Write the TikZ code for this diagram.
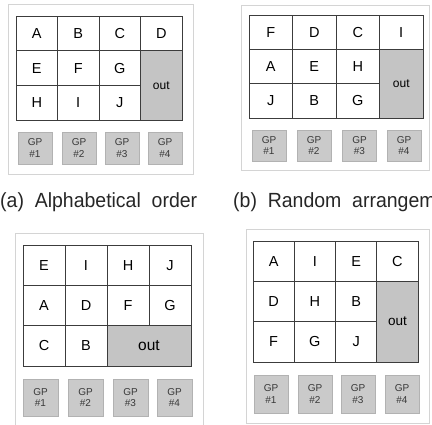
\documentclass[tikz,border=0pt]{standalone}
\usepackage{fontspec}
\setmainfont{Liberation Sans}
\newfontfamily\capfont[FakeStretch=0.95]{Liberation Sans}

\definecolor{gridline}{HTML}{3C3C3C}
\definecolor{framegray}{HTML}{D4D4D4}
\definecolor{outgray}{HTML}{C4C4C4}
\definecolor{gpgray}{HTML}{CACACA}
\definecolor{gpline}{HTML}{B2B2B2}
\definecolor{gptext}{HTML}{383838}

\tikzstyle{cell} = [
        draw=gridline,
        line width=0.8pt,
        fill=white,
        inner sep=0pt,
        font=\fontsize{14.5}{14.5}\selectfont
    ]
\tikzstyle{outcell} = [
        cell,
        fill=outgray,
        font=\fontsize{12}{12}\selectfont
    ]
\tikzstyle{gpbox} = [
        draw=gpline,
        fill=gpgray,
        inner sep=0pt,
        align=center,
        text=gptext,
        font=\fontsize{10}{11.5}\selectfont
    ]
\tikzstyle{frame} = [draw=framegray, line width=0.9pt]
\tikzstyle{caption} = [anchor=base west, inner sep=0pt, text=black!85,
        font=\capfont\fontsize{20.5}{20.5}\selectfont]

\begin{document}
\begin{tikzpicture}[x=1pt, y=-1pt]
        \useasboundingbox (0,0) rectangle (432,424);
        \clip (0,0) rectangle (432,424);

        % (a) alphabetical order
        \draw[frame] (8,4) rectangle (193,174);
        \foreach \l/\c/\r in {A/0/0, B/1/0, C/2/0, D/3/0, E/0/1, F/1/1, G/2/1, H/0/2, I/1/2, J/2/2}
            \node(a\l) [cell, minimum width=41.5pt, minimum height=34.7pt]
                at ({16+41.5*(\c+0.5)}, {16+34.7*(\r+0.5)}) {\l};
        \node(aout) [outcell, minimum width=41.5pt, minimum height=69.4pt]
            at (161.25, 85.4) {out};
        \foreach \k/\x in {1/35, 2/79, 3/122, 4/165}
            \node(agp\k) [gpbox, minimum width=34pt, minimum height=32pt]
                at (\x, 148) {GP\\\#\k};
        \node(acap) [caption] at (0, 207) {(a)\ \ Alphabetical\ \ order};

        % (b) random arrangement
        \draw[frame] (241,5) rectangle (429,170);
        \foreach \l/\c/\r in {F/0/0, D/1/0, C/2/0, I/3/0, A/0/1, E/1/1, H/2/1, J/0/2, B/1/2, G/2/2}
            \node(b\l) [cell, minimum width=43.5pt, minimum height=34.3pt]
                at ({249+43.5*(\c+0.5)}, {15+34.3*(\r+0.5)}) {\l};
        \node(bout) [outcell, minimum width=43.5pt, minimum height=68.6pt]
            at (401.25, 83.6) {out};
        \foreach \k/\x in {1/269, 2/314, 3/359.5, 4/404}
            \node(bgp\k) [gpbox, minimum width=34pt, minimum height=31pt]
                at (\x, 145.5) {GP\\\#\k};
        \node(bcap) [caption] at (233, 207) {(b)\ \ Random\ \ arrangement};

        % (c)
        \draw[frame] (15,233) rectangle (203,432);
        \foreach \l/\c/\r in {E/0/0, I/1/0, H/2/0, J/3/0, A/0/1, D/1/1, F/2/1, G/3/1, C/0/2, B/1/2}
            \node(c\l) [cell, minimum width=42pt, minimum height=40.3pt]
                at ({23+42*(\c+0.5)}, {245+40.3*(\r+0.5)}) {\l};
        \node(cout) [outcell, minimum width=84pt, minimum height=40.3pt,
            font=\fontsize{15.5}{15.5}\selectfont] at (149, 345.75) {out};
        \foreach \k/\x in {1/40.5, 2/85.5, 3/130.5, 4/174.5}
            \node(cgp\k) [gpbox, minimum width=35pt, minimum height=37pt]
                at (\x, 397.5) {GP\\\#\k};

        % (d)
        \draw[frame] (246,229) rectangle (429,423.5);
        \foreach \l/\c/\r in {A/0/0, I/1/0, E/2/0, C/3/0, D/0/1, H/1/1, B/2/1, F/0/2, G/1/2, J/2/2}
            \node(d\l) [cell, minimum width=41.25pt, minimum height=40.3pt]
                at ({253+41.25*(\c+0.5)}, {241+40.3*(\r+0.5)}) {\l};
        \node(dout) [outcell, minimum width=41.25pt, minimum height=80.6pt,
            font=\fontsize{13.5}{13.5}\selectfont] at (397.4, 321.6) {out};
        \foreach \k/\x in {1/271, 2/315, 3/358, 4/402}
            \node(dgp\k) [gpbox, minimum width=34pt, minimum height=38pt]
                at (\x, 394) {GP\\\#\k};
    \end{tikzpicture}
\end{document}
